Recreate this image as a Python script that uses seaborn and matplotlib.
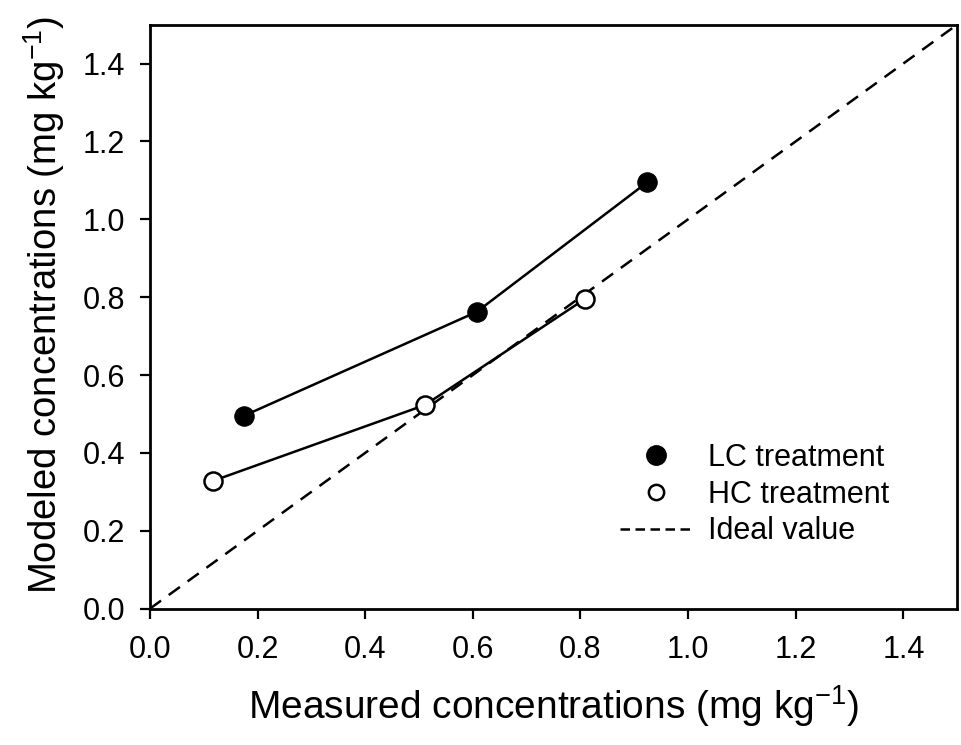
import matplotlib
matplotlib.use("Agg")
import matplotlib.pyplot as plt
import seaborn as sns
import pandas as pd
from matplotlib.lines import Line2D

lc_measured = [0.174, 0.607, 0.924]
lc_modeled = [0.495, 0.762, 1.095]
hc_measured = [0.117, 0.511, 0.808]
hc_modeled = [0.328, 0.523, 0.795]
ideal_x = [0.0, 1.5]
ideal_y = [0.0, 1.5]
ticks = [0.0, 0.2, 0.4, 0.6, 0.8, 1.0, 1.2, 1.4]
tick_labels = ["0.0", "0.2", "0.4", "0.6", "0.8", "1.0", "1.2", "1.4"]

sns.set_theme(style="ticks")
plt.rcParams["font.family"] = ["Liberation Sans", "DejaVu Sans"]
plt.rcParams["mathtext.default"] = "regular"
plt.rcParams["text.color"] = "black"
plt.rcParams["axes.labelcolor"] = "black"

fig = plt.figure(figsize=(9.61, 7.45), dpi=100)
ax = fig.add_axes([0.156, 0.183, 0.840, 0.784])

lc = pd.DataFrame({"x": lc_measured, "y": lc_modeled})
hc = pd.DataFrame({"x": hc_measured, "y": hc_modeled})
ideal = pd.DataFrame({"x": ideal_x, "y": ideal_y})

sns.lineplot(data=ideal, x="x", y="y", ax=ax, color="black", lw=1.8,
             dashes=False, zorder=1).lines[-1].set_dashes((5.5, 3.8))
sns.lineplot(data=lc, x="x", y="y", ax=ax, color="black", lw=1.8,
             marker="o", markersize=14, markerfacecolor="black",
             markeredgecolor="black", zorder=3)
sns.lineplot(data=hc, x="x", y="y", ax=ax, color="black", lw=1.8,
             marker="o", markersize=13, markerfacecolor="white",
             markeredgecolor="black", markeredgewidth=1.8, zorder=3)

ax.set_xlim(0, 1.5)
ax.set_ylim(0, 1.5)
ax.set_xticks(ticks)
ax.set_xticklabels(tick_labels)
ax.set_yticks(ticks)
ax.set_yticklabels(tick_labels)
ax.tick_params(direction="out", length=7, width=1.6, labelsize=22,
               colors="black", labelcolor="black")
ax.tick_params(axis="x", pad=12)
ax.tick_params(axis="y", pad=11)
for s in ax.spines.values():
    s.set_linewidth(2)
    s.set_color("black")

ax.set_xlabel("Measured concentrations (mg kg$^{-1}$)", fontsize=28, color="black")
ax.set_ylabel("Modeled concentrations (mg kg$^{-1}$)", fontsize=27.5, color="black")
ax.xaxis.set_label_coords(0.5, -0.128)
ax.yaxis.set_label_coords(-0.103, 0.52)

handles = [
    Line2D([], [], ls="none", marker="o", markersize=14, markerfacecolor="black", markeredgecolor="black"),
    Line2D([], [], ls="none", marker="o", markersize=11, markerfacecolor="white", markeredgecolor="black", markeredgewidth=1.8),
    Line2D([], [], color="black", lw=1.8, dashes=(3.8, 2.2)),
]
leg = ax.legend(handles, ["LC treatment", "HC treatment", "Ideal value"], frameon=False,
                fontsize=22, loc="center left", bbox_to_anchor=(0.582, 0.195),
                borderpad=0, borderaxespad=0,
                handlelength=2.4, labelspacing=0.22, handletextpad=0.5)
for t in leg.get_texts():
    t.set_color("black")

fig.savefig("out.png", dpi=100)
